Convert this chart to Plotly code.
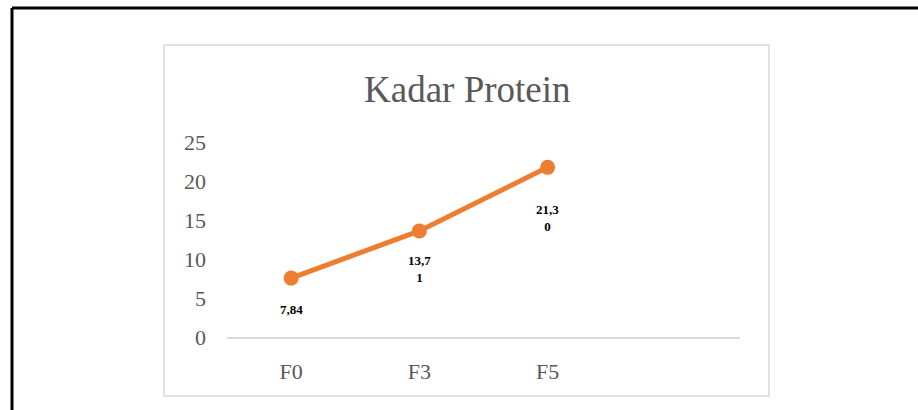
import plotly.graph_objects as go

categories = ["F0", "F3", "F5"]
# marker heights as drawn in the picture
values = [7.55, 13.6, 21.75]
# data label texts as printed in the picture
labels = ["7,84", "13,7<br>1", "21,3<br>0"]
label_shift = [-22, -20, -33]

W, H = 918, 410

def px(x):
    return x / W

def py(y):
    return 1 - y / H

fig = go.Figure()
fig.add_trace(go.Scatter(
    x=categories, y=values, mode="lines+markers",
    line=dict(color="#ED7D31", width=5),
    marker=dict(color="#ED7D31", size=15),
    hoverinfo="skip", showlegend=False,
))

for c, v, t, s in zip(categories, values, labels, label_shift):
    fig.add_annotation(
        x=c, y=v, text="<b>" + t.replace("<br>", "</b><br><b>") + "</b>",
        showarrow=False, yanchor="top", yshift=s,
        font=dict(family="Liberation Serif", size=13, color="#000000"),
        xref="x", yref="y",
    )

fig.add_annotation(
    x=px(467), y=py(90), xref="paper", yref="paper", text="Kadar Protein",
    showarrow=False, xanchor="center", yanchor="middle",
    font=dict(family="Liberation Serif", size=37, color="#595959"),
)

# chart frame boxes
fig.add_shape(type="rect", xref="paper", yref="paper",
              x0=px(164), x1=px(769), y0=py(396), y1=py(45),
              line=dict(color="#D9D9D9", width=1.5), layer="below")
fig.add_shape(type="line", xref="paper", yref="paper",
              x0=px(12), x1=px(918), y0=py(8), y1=py(8),
              line=dict(color="#000000", width=3))
fig.add_shape(type="line", xref="paper", yref="paper",
              x0=px(12), x1=px(12), y0=py(8), y1=py(410),
              line=dict(color="#000000", width=3))

fig.update_layout(
    width=W, height=H,
    margin=dict(l=0, r=0, t=0, b=0, pad=0, autoexpand=False),
    paper_bgcolor="white", plot_bgcolor="white",
    font=dict(family="Liberation Serif", color="#595959"),
    xaxis=dict(
        domain=[px(227), px(740)],
        type="category", range=[-0.5, 3.5],
        showgrid=False, zeroline=False,
        showline=True, linecolor="#D9D9D9", linewidth=1.5,
        ticks="", tickfont=dict(size=22, color="#595959"),
        ticklabelstandoff=14, fixedrange=True,
    ),
    yaxis=dict(
        domain=[py(337), py(142)],
        range=[0, 25], dtick=5,
        showgrid=False, zeroline=False, showline=False,
        ticks="", tickfont=dict(size=22, color="#595959"),
        ticklabelstandoff=20, fixedrange=True,
    ),
)

fig.write_html(
    "out.html",
    config={"displayModeBar": False, "staticPlot": True},
    post_script="document.body.style.margin='0';document.body.style.overflow='hidden';",
)
